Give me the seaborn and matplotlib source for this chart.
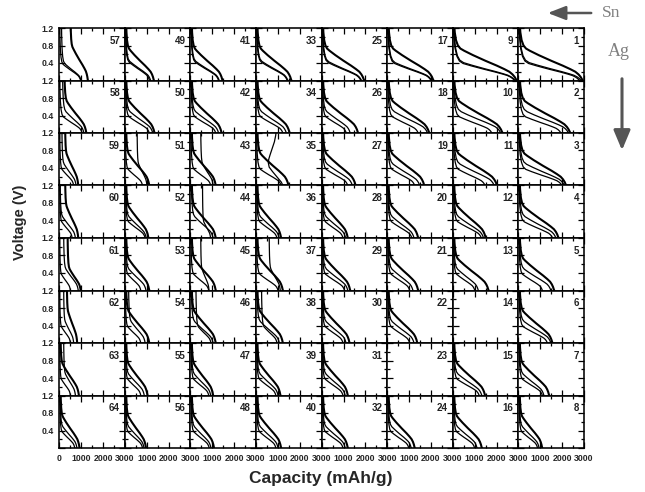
import numpy as np
import pandas as pd
import matplotlib
matplotlib.use("Agg")
import matplotlib.pyplot as plt
from matplotlib.patches import FancyArrowPatch, ArrowStyle
from matplotlib.ticker import MultipleLocator
import seaborn as sns

sns.set_theme(style="white")
plt.rcParams["font.family"] = ["Liberation Sans", "DejaVu Sans"]

# ---------------- data ----------------
# end capacity (mAh/g) of the three discharge curves in each panel 1..64 (None = empty panel)
THICK_END = [2950, 2380, 2190, 1840, 1640, 1560, 1410, 1090,
             2930, 2280, 2030, 1510, 1640, None, 1480, 1330,
             2120, 1930, 1700, 1420, 1420, 1380, None, 1260,
             1950, 1670, 1560, 1200, 1310, 1280, 1200, 1200,
             1620, 1540, 1490, 1150, 1230, 1230, 1120, 1150,
             1470, 1430, 1160, 1160, 1160, 1160, 1040, 1080,
             1330, 1360, 1120, 1080, 1120, 1120, 1040, 970,
             1310, 1240, 870, 870, 980, 820, 900, 930]
MID_END = [2880, 2300, 2110, 1720, 1490, 1490, 1170, 950,
           2860, 2200, 1900, 1410, 1170, None, 1330, 1110,
           2040, 1850, 1490, 1230, 1180, 1230, None, 1100,
           1830, 1310, 1410, 1100, 1200, 1120, 1080, 1080,
           1460, 1390, 1310, 1060, 1110, 1070, 1010, 1010,
           1320, 1290, 1040, 1040, 850, 1040, 930, 940,
           1180, 1280, 1010, 980, 970, 930, 890, 880,
           1000, 1130, 770, 740, 870, 660, 740, 810]
THIN_END = [2800, 1950, 2000, 1570, 1100, 1330, 1100, 880,
            2830, 1790, 1480, 1310, 1010, None, 1210, 1000,
            2010, 1420, 1260, 1130, 1030, 1030, None, 990,
            1800, 1130, 1200, 980, 1050, 980, 980, 980,
            1430, 1230, 1150, 960, 1010, 960, 910, 910,
            1290, 1160, 930, 920, 840, 940, 840, 860,
            1130, 1120, 810, 930, 730, 730, 730, 810,
            980, 1050, 660, 590, 510, 510, 510, 710]
EMPTY_PANELS = [14, 23]

# capacity where a curve leaves the top of the panel (default values, then exceptions)
START_DEFAULT = {"thick": 60, "mid": 40, "thin": 20}
START_THICK = {57: 520, 58: 240, 59: 270, 60: 270, 61: 380, 62: 350}
START_MID = {57: 100, 58: 150, 59: 120, 61: 200, 62: 200, 63: 200,
             51: 560, 43: 470, 45: 470, 37: 600, 54: 170}
START_THIN = {44: 550, 46: 250, 38: 250}

# knee voltage (V) of each curve
KNEE_DEFAULT = {"thick": 0.70, "mid": 0.50, "thin": 0.38}
KNEE_THICK = {57: 0.74, 61: 0.50}
KNEE_MID = {1: 0.42, 9: 0.42, 17: 0.42, 25: 0.44, 33: 0.45, 41: 0.45, 49: 0.45, 57: 0.40}
KNEE_THIN = {1: 0.40, 9: 0.40, 17: 0.40, 25: 0.42, 33: 0.43, 41: 0.43, 49: 0.43}

# normalised discharge profile (fraction of capacity, voltage at knee 0.7 V)
TEMPLATE_U = [0.0, 0.01, 0.03, 0.06, 0.10, 0.16, 0.30, 0.50, 0.68, 0.80, 0.88, 0.93, 0.965, 0.985, 1.0]
TEMPLATE_V = [1.30, 1.10, 0.92, 0.80, 0.73, 0.68, 0.58, 0.45, 0.34, 0.26, 0.20, 0.14, 0.08, 0.03, 0.0]

# the odd first-cycle curve of panel 35
P35_CAP = [920, 900, 840, 740, 640, 580, 560, 600, 750, 950, 1150, 1230]
P35_VOLT = [1.25, 1.15, 1.00, 0.85, 0.70, 0.60, 0.52, 0.42, 0.32, 0.20, 0.08, 0.0]

X_TICKS = [0, 1000, 2000, 3000]
Y_TICKS = [0, 0.4, 0.8, 1.2]
Y_TICK_LABELS = ["", "0.4", "0.8", "1.2"]


def profile(start, end, knee):
    u = np.array(TEMPLATE_U)
    v = np.array(TEMPLATE_V)
    cap = start + u * (end - start)
    volt = np.where(v <= 0.7, v * knee / 0.7, knee + (v - 0.7) * (1.3 - knee) / 0.6)
    return cap, volt


rows = []
ends = {"thick": THICK_END, "mid": MID_END, "thin": THIN_END}
starts = {"thick": START_THICK, "mid": START_MID, "thin": START_THIN}
knees = {"thick": KNEE_THICK, "mid": KNEE_MID, "thin": KNEE_THIN}
for n in range(1, 65):
    if n in EMPTY_PANELS:
        continue
    for kind in ["thin", "mid", "thick"]:
        e = ends[kind][n - 1]
        if e is None:
            continue
        if n == 35 and kind == "mid":
            cap, volt = np.array(P35_CAP, float), np.array(P35_VOLT, float)
        else:
            s = starts[kind].get(n, START_DEFAULT[kind])
            k = knees[kind].get(n, KNEE_DEFAULT[kind])
            cap, volt = profile(s, e, k)
        for x, y in zip(cap, volt):
            rows.append({"panel": n, "curve": kind, "cap": x, "volt": y})
df = pd.DataFrame(rows)

# ---------------- figure ----------------
W, H = 645, 492
fig, axes = plt.subplots(8, 8, figsize=(W / 100, H / 100), dpi=100)
fig.subplots_adjust(left=59.3 / W, right=584 / W, top=1 - 28 / H, bottom=1 - 448 / H,
                    wspace=0, hspace=0)

for r in range(8):
    for c in range(8):
        ax = axes[r, c]
        n = (7 - c) * 8 + r + 1
        sub = df[df["panel"] == n]
        if len(sub) and n not in EMPTY_PANELS:
            sns.lineplot(data=sub, x="cap", y="volt", hue="curve", size="curve",
                         palette={"thick": "black", "mid": "black", "thin": "black"},
                         sizes={"thick": 1.5, "mid": 0.9, "thin": 0.9},
                         units="curve", estimator=None, sort=False, legend=False, ax=ax)
        ax.set_xlim(0, 3000)
        ax.set_ylim(0, 1.2)
        ax.set_xlabel("")
        ax.set_ylabel("")
        ax.xaxis.set_minor_locator(MultipleLocator(500))
        ax.yaxis.set_minor_locator(MultipleLocator(0.2))
        ax.set_xticks(X_TICKS)
        ax.set_yticks(Y_TICKS)
        ax.tick_params(which="both", direction="in", top=True, bottom=True,
                       left=True, right=True, color="black", width=0.9)
        ax.tick_params(which="major", length=4)
        ax.tick_params(which="minor", length=2.3)
        if r == 7:
            labs = ["0" if c == 0 else "", "1000", "2000", "3000"]
            ax.set_xticklabels(labs, fontsize=6.3, fontweight="bold")
            ax.tick_params(axis="x", pad=4)
        else:
            ax.set_xticklabels([])
        if c == 0:
            ax.set_yticklabels(Y_TICK_LABELS, fontsize=6.3, fontweight="bold")
            ax.tick_params(axis="y", pad=4)
        else:
            ax.set_yticklabels([])
        for sp in ax.spines.values():
            sp.set_color("black")
            sp.set_linewidth(1.15)
        ax.text(0.925, 0.76, str(n), transform=ax.transAxes, ha="right", va="center",
                fontsize=7, fontweight="bold", color="#222222")

fig.text(20 / W, 1 - 222 / H, "Voltage (V)", rotation=90, ha="center", va="center",
         fontsize=10.5, fontweight="bold")
fig.text(321 / W, 1 - 479 / H, "Capacity (mAh/g)", ha="center", va="center",
         fontsize=12.5, fontweight="bold")

serif = ["Liberation Serif", "DejaVu Serif"]
fig.text(611 / W, 1 - 13 / H, "Sn", ha="center", va="center", fontsize=12.5,
         family=serif, color="#808080")
fig.text(619 / W, 1 - 52 / H, "Ag", ha="center", va="center", fontsize=13,
         family=serif, color="#808080")
fig.add_artist(FancyArrowPatch((594 / W, 1 - 13 / H), (545 / W, 1 - 13 / H),
                               transform=fig.transFigure,
                               arrowstyle=ArrowStyle("-|>", head_length=0.9, head_width=0.35),
                               mutation_scale=12, lw=1.8, color="#555555"))
fig.add_artist(FancyArrowPatch((622 / W, 1 - 76 / H), (622 / W, 1 - 153 / H),
                               transform=fig.transFigure,
                               arrowstyle=ArrowStyle("-|>", head_length=1.0, head_width=0.42),
                               mutation_scale=12, lw=2.2, color="#555555"))

fig.savefig("out.png", dpi=100)
